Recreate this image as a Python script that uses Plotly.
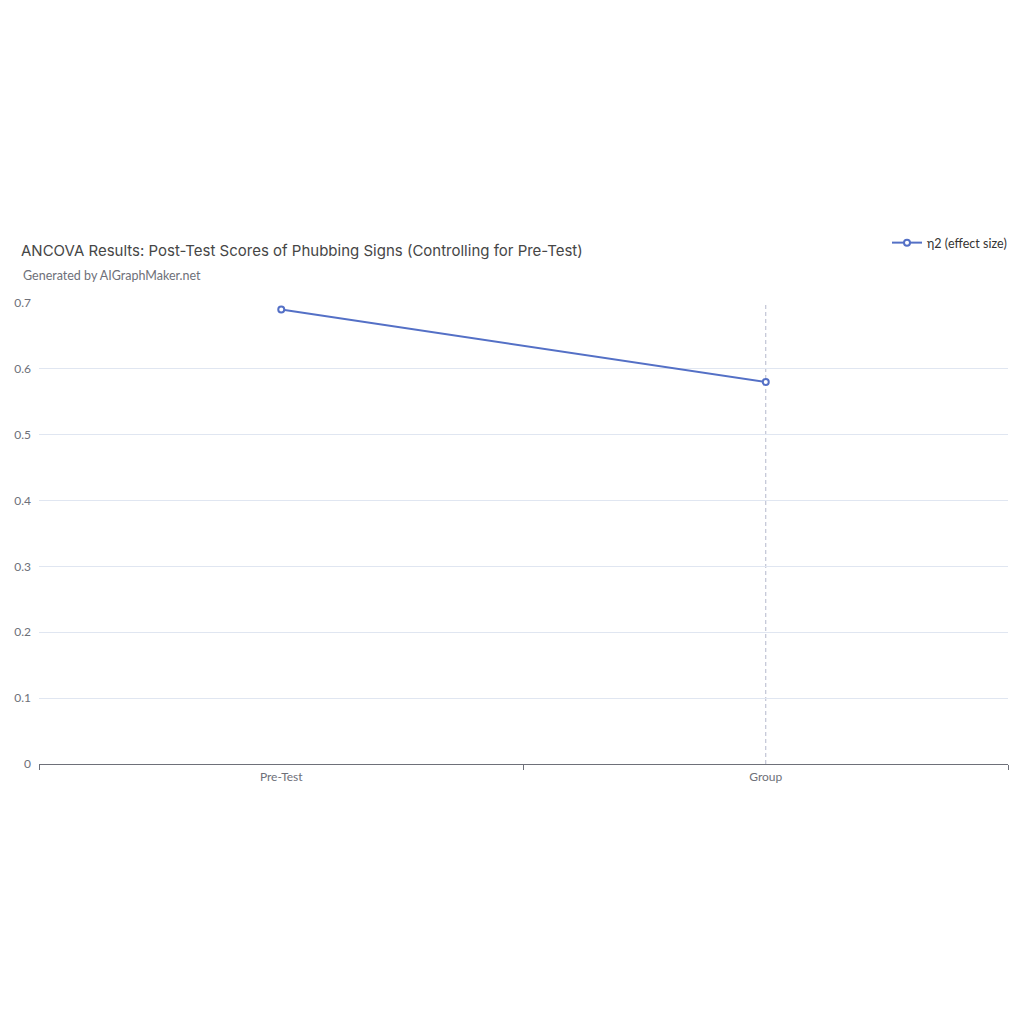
import plotly.graph_objects as go

categories = ["Pre-Test", "Group"]
eta_sq = [0.69, 0.58]
series_name = "η2 (effect size)"
y_ticks = [0, 0.1, 0.2, 0.3, 0.4, 0.5, 0.6, 0.7]

line_color = "#5470c6"
label_color = "#6E7079"

# page has an 8px body margin, so the figure is 1008 wide and offsets are shifted
W = H = 1008

fig = go.Figure()
fig.add_trace(go.Scatter(
    x=categories,
    y=eta_sq,
    name=series_name,
    mode="lines+markers",
    line=dict(color=line_color, width=2),
    marker=dict(symbol="circle", size=6, color="white",
                line=dict(color=line_color, width=2)),
))

# dashed pointer line on the second category
fig.add_shape(type="line", xref="x", yref="paper",
              x0=categories[1], x1=categories[1], y0=0, y1=1,
              line=dict(color="#b4b8cc", width=1, dash="4px,3px"), layer="below")

fig.update_layout(
    width=W, height=H,
    paper_bgcolor="white", plot_bgcolor="white",
    margin=dict(l=31, r=8, t=295, b=252, autoexpand=False),
    font=dict(family="Lato, Noto Sans, sans-serif", size=12, color=label_color),
    title=dict(
        text="ANCOVA Results: Post-Test Scores of Phubbing Signs (Controlling for Pre-Test)",
        x=13 / W, xanchor="left", xref="container",
        y=1 - 243 / H, yanchor="middle", yref="container",
        font=dict(family="Inter, Noto Sans, sans-serif", size=15, color="#464646"),
    ),
    annotations=[dict(
        text="Generated by AIGraphMaker.net",
        xref="paper", yref="paper",
        x=-18 / 969, y=1 + (303 - 275) / 461,
        xanchor="left", yanchor="middle", showarrow=False,
        font=dict(family="Lato, Noto Sans, sans-serif", size=12.5, color="#6E7079"),
    )],
    showlegend=True,
    legend=dict(
        x=1 + 4 / 969, xanchor="right", y=1 + (303 - 243) / 461, yanchor="middle",
        orientation="h", bgcolor="rgba(0,0,0,0)",
        font=dict(family="Lato, Noto Sans, sans-serif", size=12.5, color="#333333"),
        itemwidth=30,
    ),
    xaxis=dict(
        type="category", tickson="boundaries", ticks="outside", ticklen=5,
        tickcolor=label_color, showline=True, linecolor=label_color, linewidth=1,
        showgrid=False, zeroline=False, range=[-0.5, 1.5], automargin=False,
        ticklabelstandoff=2,
        tickfont=dict(size=12, color=label_color),
    ),
    yaxis=dict(
        range=[0, 0.7], tickvals=y_ticks, ticktext=[f"{v:g}" for v in y_ticks],
        showgrid=True, gridcolor="#E0E6F1", gridwidth=1, zeroline=False,
        showline=False, ticks="", ticklabelstandoff=7, automargin=False,
        tickfont=dict(size=12, color=label_color),
    ),
)

fig.write_html("out.html")
